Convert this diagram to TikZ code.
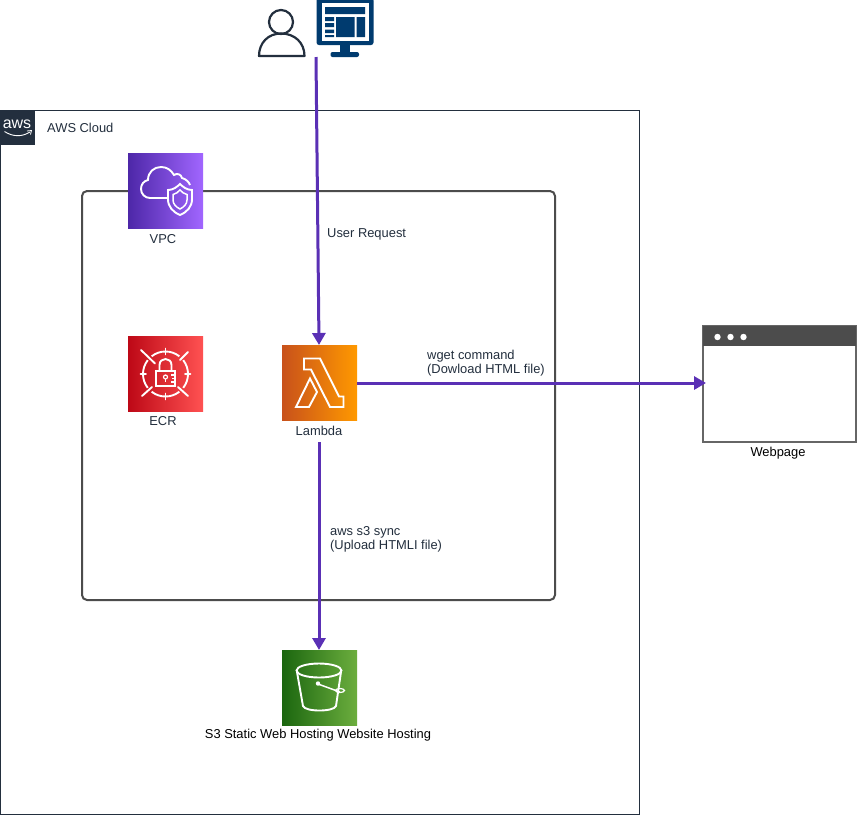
\documentclass[tikz,border=0pt]{standalone}
\usepackage{fontspec}
\setmainfont{Liberation Sans}
\usetikzlibrary{arrows.meta}
\definecolor{awsdark}{HTML}{232F3E}
\definecolor{flow}{HTML}{5A30B5}
\definecolor{navy}{HTML}{003B6F}
\definecolor{vpca}{HTML}{4D27A8}\definecolor{vpcb}{HTML}{A166FF}
\definecolor{ecra}{HTML}{BD0816}\definecolor{ecrb}{HTML}{FF5252}
\definecolor{lama}{HTML}{C8511B}\definecolor{lamb}{HTML}{FF9900}
\definecolor{sa}{HTML}{1B660F}\definecolor{sb}{HTML}{6CAE3E}
\tikzset{
  lbl/.style={inner sep=0pt,text=awsdark,font=\fontsize{12.9}{14}\selectfont},
  lblleft/.style={lbl,anchor=west,align=left},
  blk/.style={inner sep=0pt,text=black,font=\fontsize{12.9}{14}\selectfont},
  icon/.style={minimum width=75pt,minimum height=75pt,inner sep=0pt,outer sep=0pt,anchor=north west},
  glyph/.style={draw=white,line width=1.9pt,line join=miter},
  flowline/.style={draw=flow,line width=3pt,-{Triangle[length=12pt,width=13pt]}},
}
\begin{document}
\begin{tikzpicture}[x=1pt,y=-1pt]
\useasboundingbox (0,0) rectangle (857,815);
\fill[white] (0,0) rectangle (857,815);
% AWS cloud group
\node[draw=awsdark,line width=1pt,outer sep=0pt,minimum width=639pt,minimum height=704pt,anchor=north west,inner sep=0pt] (cloud) at (0.3,110.7) {};
\node[fill=awsdark,outer sep=0pt,minimum width=35pt,minimum height=35pt,anchor=north west,inner sep=0pt] (awstag) at (0,110.3) {};
\node[inner sep=0pt,text=white,font=\fontsize{16}{16}\selectfont] (awstext) at (17,124.5) {aws};
\draw[white,line width=0.9pt] (4.5,131.5) .. controls (13,137) and (22,137) .. (30,132);
\draw[white,line width=0.8pt] (27,131) -- (31.5,130.5) -- (30.5,134.5);
\node[lblleft] (cloudlabel) at (47,128) {AWS Cloud};
% VPC box
\node[draw=black!70,line width=2pt,rounded corners=5pt,outer sep=0pt,minimum width=473pt,minimum height=409pt,anchor=north west,inner sep=0pt] (vpcbox) at (82,191) {};
% VPC icon
\shade[left color=vpca,right color=vpcb] (128,153) rectangle (203,228);
\node[icon] (vpc) at (128,153) {};
\begin{scope}[shift={(128,153)}]
\draw[glyph] (39,45) -- (22,45) .. controls (17,45) and (13,41) .. (13,36) .. controls (13,31) and (16,28) .. (20,27) .. controls (20,19) and (26,14) .. (33,14) .. controls (39,14) and (43,17) .. (46,22) .. controls (49,20) and (53,21) .. (54,25) .. controls (58,26) and (61,29) .. (62,32);
\draw[glyph] (52,31) .. controls (55,34) and (59,37) .. (64,37) -- (64,46) .. controls (64,54) and (59,59) .. (52,62) .. controls (45,59) and (40,54) .. (40,46) -- (40,37) .. controls (45,37) and (49,34) .. (52,31) -- cycle;
\draw[glyph,line width=1.5pt] (52,37) .. controls (50,39) and (48,41) .. (45,41.5) -- (45,47) .. controls (45,51) and (48,54) .. (52,56) .. controls (56,54) and (59,51) .. (59,47) -- (59,41.5) .. controls (56,41) and (54,39) .. (52,37) -- cycle;
\end{scope}
\node[lbl] (vpclabel) at (163,239) {VPC};
% ECR icon
\shade[left color=ecra,right color=ecrb] (128,336) rectangle (203,411);
\node[icon] (ecr) at (128,336) {};
\begin{scope}[shift={(128,336)}]
\coordinate (ecrc) at (37.5,38);
\draw[glyph] (ecrc) ++(52:22.5) arc[start angle=52,end angle=128,radius=22.5];
\draw[glyph] (ecrc) ++(142:22.5) arc[start angle=142,end angle=218,radius=22.5];
\draw[glyph] (ecrc) ++(232:22.5) arc[start angle=232,end angle=308,radius=22.5];
\draw[glyph] (ecrc) ++(322:22.5) arc[start angle=322,end angle=398,radius=22.5];
\draw[glyph,line cap=round] (13,14) -- (27,27.5) (60,16) -- (52,24) (14,60) -- (24,51) (60,60) -- (50,51);
\draw[glyph,line cap=round] (37.5,12.5) -- (37.5,18.5) (37.5,57.5) -- (37.5,63.5) (12.5,38) -- (18,38) (57,38) -- (62.5,38);
\draw[glyph] (28,35) rectangle (47,50);
\draw[glyph] (31.5,35) -- (31.5,29) .. controls (31.5,21) and (43.5,21) .. (43.5,29) -- (43.5,35);
\draw[glyph,line width=1.2pt] (37.5,41) circle[radius=2];
\draw[glyph,line width=1.2pt] (37.5,43) -- (37.5,46);
\draw[glyph,line width=1.2pt] (47,39) -- (43,39) (47,42.5) -- (44,42.5) (47,46) -- (43,46);
\end{scope}
\node[lbl] (ecrlabel) at (163,421) {ECR};
% Lambda icon
\shade[left color=lama,right color=lamb] (282,345) rectangle (357,420);
\node[icon] (lambda) at (282,345) {};
\begin{scope}[shift={(282,345)}]
\draw[glyph] (22,13.5) -- (38,13.5) -- (57,51.5) -- (61.5,51.5) -- (61.5,62) -- (48,62) -- (29,24.5) -- (22,24.5) -- cycle;
\draw[glyph] (28,33.5) -- (35,47) -- (27,62) -- (14,62) -- cycle;
\end{scope}
\node[lbl] (lambdalabel) at (319,431) {Lambda};
% S3 icon
\shade[left color=sa,right color=sb] (282,650) rectangle (357,725);
\node[icon] (s3) at (282,650) {};
\begin{scope}[shift={(282,650)}]
\draw[glyph] (37,20.5) ellipse[x radius=22.5,y radius=7];
\draw[glyph] (15,22) -- (21,56) .. controls (23,62) and (52,62) .. (54,56) -- (59,22);
\draw[glyph,line width=1.5pt] (36,34) -- (58,42);
\fill[white] (36,33.5) circle[radius=2.2];
\draw[glyph,line width=1.2pt] (58,40.5) ellipse[x radius=4.5,y radius=2];
\end{scope}
\node[blk] (s3label) at (318,735) {S3 Static Web Hosting Website Hosting};
% Webpage
\node[draw=black!60,line width=1.5pt,fill=white,outer sep=0pt,minimum width=153pt,minimum height=116pt,anchor=north west,inner sep=0pt] (web) at (703,326) {};
\fill[black!70] (703,326) rectangle (856,346);
\fill[white] (717.5,337) circle[radius=3.2] (730.5,337) circle[radius=3.2] (743.5,337) circle[radius=3.2];
\node[blk] (weblabel) at (778,453) {Webpage};
% User
\node[draw=awsdark,line width=2.2pt,circle,minimum size=24pt,inner sep=0pt,outer sep=0pt,fill=white] (userhead) at (281,22) {};
\draw[awsdark,line width=2.2pt,line join=round] (259,56) .. controls (259,43) and (268,33.5) .. (281,33.5) .. controls (295,33.5) and (304.5,43) .. (304.5,56) -- cycle;
% Monitor
\node[minimum width=57pt,minimum height=57pt,inner sep=0pt,outer sep=0pt,anchor=north west] (monitor) at (316.5,0) {};
\fill[navy,rounded corners=2.5pt] (316.5,-2) rectangle (373.5,45);
\fill[white] (321.5,2.5) rectangle (368.5,40.5);
\fill[navy] (325,7) rectangle (365,14)
  (325,17) rectangle (334,21) (325,23) rectangle (334,27) (325,29.5) rectangle (334,33) (325,35) rectangle (334,37)
  (336,17) rectangle (354.5,37) (356.5,17) rectangle (365,37);
\fill[navy] (340,45) rectangle (350,52);
\fill[navy,rounded corners=2pt] (330.5,52) rectangle (359,57);
% Connectors
\coordinate (userout) at (316,57);
\coordinate (lamout) at (319,442);
\coordinate (lamin) at (319,345);
\coordinate (s3in) at (319,650);
\coordinate (webin) at (706,383);
\draw[flowline] (userout) -- (lamin);
\draw[flowline] (lambda.east |- webin) -- (webin);
\draw[flowline] (lamout) -- (s3in);
% Connector labels
\node[lblleft] (reqlabel) at (327,234.5) {User Request};
\node[lblleft] (wgetlabel) at (427,363) {wget command\\(Dowload HTML file)};
\node[lblleft] (synclabel) at (330,539.5) {aws s3 sync\\(Upload HTMLI file)};
\end{tikzpicture}
\end{document}
